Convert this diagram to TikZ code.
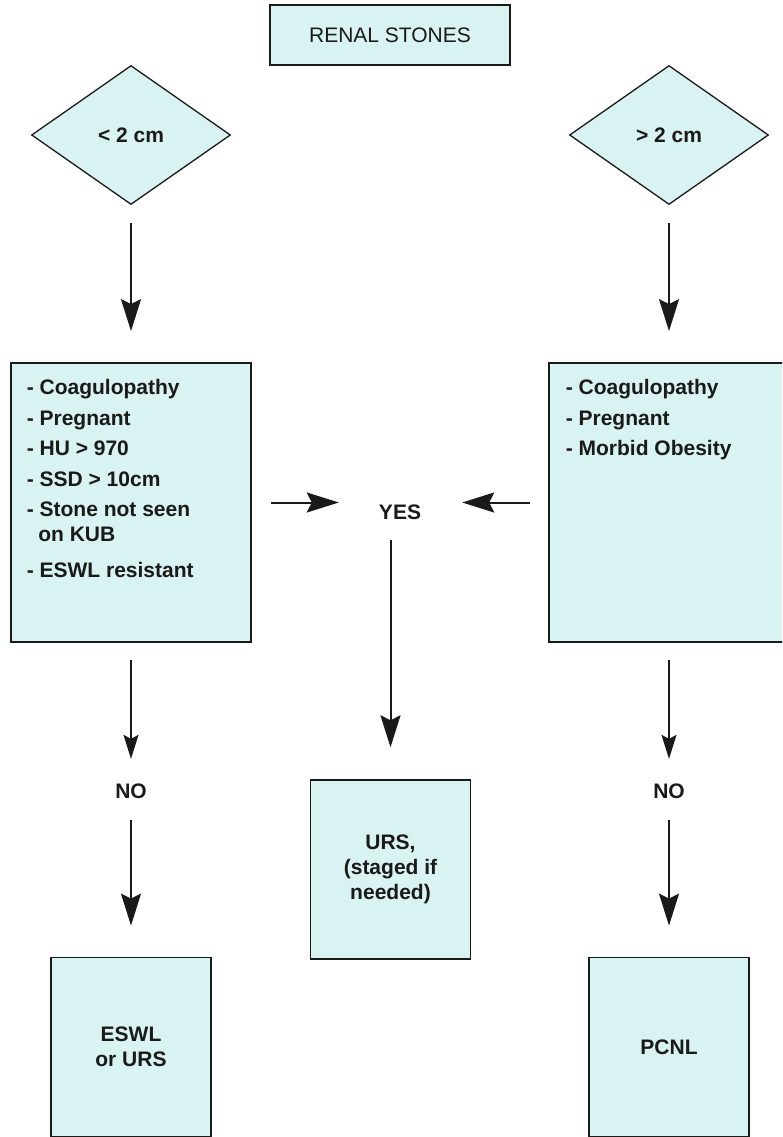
\documentclass[tikz,border=0pt]{standalone}
\usepackage{fontspec}
\setmainfont{Liberation Sans}
\usetikzlibrary{shapes.geometric,arrows.meta}
\definecolor{boxfill}{RGB}{217,243,242}
\definecolor{ink}{RGB}{26,26,26}

\tikzset{
  boxtext/.style={text=ink,inner sep=0pt,font=\fontsize{21}{25}\selectfont\bfseries},
  titlebox/.style={draw=ink,line width=1.8pt,fill=boxfill,minimum width=240pt,minimum height=60pt,
    inner sep=0pt,text=ink,font=\fontsize{21}{25}\selectfont},
  choice/.style={boxtext,shape=diamond,draw=ink,line width=1.3pt,fill=boxfill,
    minimum width=199pt,minimum height=139pt},
  listbox/.style={draw=ink,line width=1.8pt,fill=boxfill,minimum width=240pt,minimum height=279pt,inner sep=0pt},
  endbox/.style={boxtext,draw=ink,line width=1.8pt,fill=boxfill,minimum width=160pt,minimum height=179pt,align=center},
  listtext/.style={boxtext,align=left,anchor=north west},
  bigarrow/.style={draw=ink,line width=2pt,-{Stealth[length=32pt,width=20pt,inset=5pt]}},
  smallarrow/.style={draw=ink,line width=1.5pt,-{Stealth[length=24pt,width=15pt,inset=4pt]}}
}

\begin{document}
\begin{tikzpicture}[x=1pt,y=-1pt]
\path[use as bounding box] (0,0) rectangle (782,1137);
\clip (0,0) rectangle (782,1137);

% top row
\node[titlebox] (title) at (390,35) {RENAL STONES};
\node[choice] (small) at (131,135) {< 2 cm};
\node[choice] (large) at (669,135) {> 2 cm};

% criteria boxes
\node[listbox] (lbox) at (131,502.5) {};
\node[listbox] (rbox) at (669,502.5) {};
\node[listtext] (llist) at ([xshift=16.5pt,yshift=-17pt]lbox.north west)
  {- Coagulopathy\\[5.5pt]- Pregnant\\[5.5pt]- HU > 970\\[5.5pt]- SSD > 10cm\\[5.5pt]- Stone not seen\\
   \hspace*{11.5pt}on KUB\\[11pt]- ESWL resistant};
\node[listtext] (rlist) at ([xshift=17.5pt,yshift=-17pt]rbox.north west)
  {- Coagulopathy\\[5.5pt]- Pregnant\\[5.5pt]- Morbid Obesity};

% answers
\node[boxtext] (yes) at (400,512.5) {YES};
\node[boxtext] (lno) at (131,791.5) {NO};
\node[boxtext] (rno) at (669,791.5) {NO};

% treatments
\node[endbox] (urs) at (390.5,869.7) {URS,\\(staged if\\needed)};
\node[endbox] (eswl) at (131,1047) {ESWL\\or URS};
\node[endbox] (pcnl) at (669,1047) {PCNL};

% connectors
\draw[bigarrow,shorten <=18pt,shorten >=31pt] (small.south) -- (lbox.north);
\draw[bigarrow,shorten <=18pt,shorten >=31pt] (large.south) -- (rbox.north);
\draw[bigarrow,shorten <=19pt,shorten >=40pt] (lbox.east) -- (lbox.east -| yes.west);
\draw[bigarrow,shorten <=18pt,shorten >=41pt] (rbox.west) -- (rbox.west -| yes.east);
\draw[bigarrow,shorten <=20pt,shorten >=32pt] (yes.south -| urs.north) -- (urs.north);
\draw[smallarrow,shorten <=17.5pt,shorten >=25pt] (lbox.south) -- (lno.north);
\draw[smallarrow,shorten <=17.5pt,shorten >=25pt] (rbox.south) -- (rno.north);
\draw[bigarrow,shorten <=21pt,shorten >=31pt] (lno.south) -- (eswl.north);
\draw[bigarrow,shorten <=21pt,shorten >=31pt] (rno.south) -- (pcnl.north);
\end{tikzpicture}
\end{document}
